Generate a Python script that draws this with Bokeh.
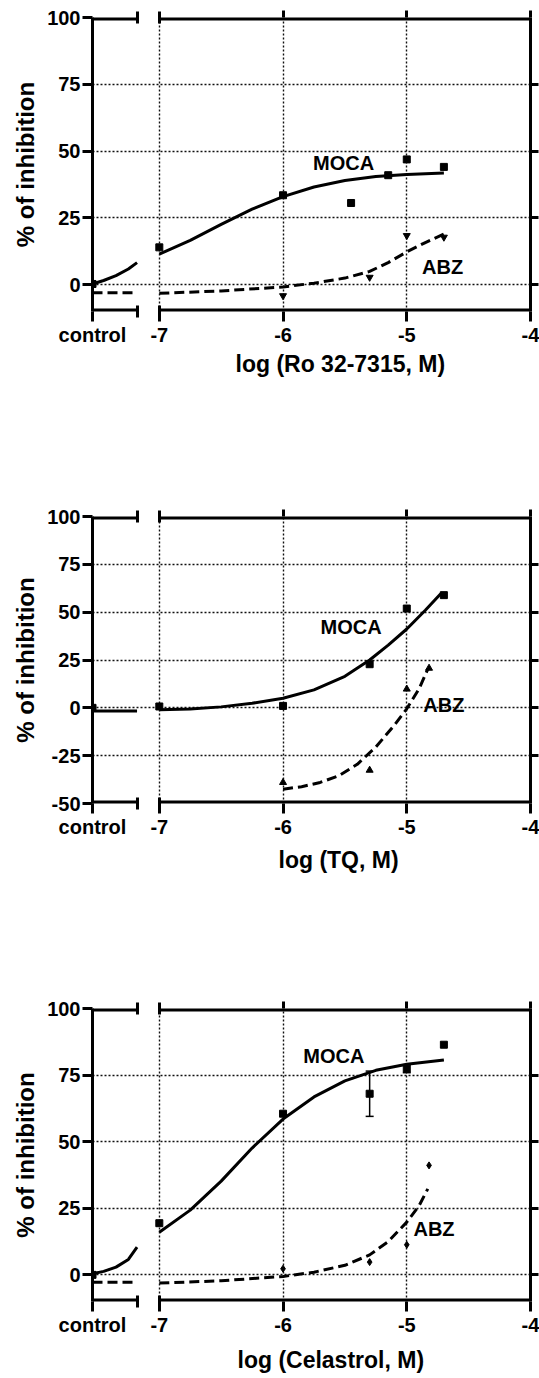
from bokeh.plotting import figure
from bokeh.models import (Range1d, LinearAxis, FixedTicker, Grid, Label, Title,
                          Whisker, ColumnDataSource, TeeHead)
from bokeh.layouts import column
from bokeh.embed import file_html
from bokeh.resources import INLINE

FONT = "Liberation Sans"

# ---------------- axis categories ----------------
X_CTRL = -7.54          # position of the "control" category on the broken axis
X_BREAK = -7.18         # end of the control segment
X_MAX = -4.0
X_TICKS = [X_CTRL, -7, -6, -5, -4]
X_TICK_LABELS = ["control", "-7", "-6", "-5", "-4"]
X_GRID = [-7, -6, -5]

# ---------------- panel 1 : Ro 32-7315 ----------------
P1_TITLE = "log (Ro 32-7315, M)"
P1_Y_TICKS = [0, 25, 50, 75, 100]
P1_MOCA_X = [-7, -6, -5.45, -5.15, -5, -4.7]
P1_MOCA_Y = [14.0, 33.5, 30.6, 41.0, 46.9, 44.1]
P1_MOCA_CTRL = 0.3
P1_ABZ_X = [-6, -5.3, -5, -4.7]
P1_ABZ_Y = [-4.1, 2.8, 18.4, 17.8]
P1_MOCA_FIT_X = [-7, -6.75, -6.5, -6.25, -6, -5.75, -5.5, -5.25, -5, -4.7]
P1_MOCA_FIT_Y = [11.5, 16.6, 22.6, 28.3, 33.0, 36.6, 39.0, 40.5, 41.3, 41.8]
P1_MOCA_CFIT_X = [-7.54, -7.45, -7.35, -7.25, -7.18]
P1_MOCA_CFIT_Y = [0.3, 1.6, 3.4, 5.9, 8.3]
P1_ABZ_FIT_X = [-7, -6.5, -6, -5.75, -5.5, -5.3, -5.15, -5.0, -4.85, -4.7]
P1_ABZ_FIT_Y = [-3.2, -2.3, -0.8, 0.6, 2.5, 5.0, 8.3, 12.3, 15.8, 19.0]
P1_ABZ_CFIT_X = [-7.54, -7.18]
P1_ABZ_CFIT_Y = [-3.0, -3.0]

# ---------------- panel 2 : TQ ----------------
P2_TITLE = "log (TQ, M)"
P2_Y_TICKS = [-50, -25, 0, 25, 50, 75, 100]
P2_MOCA_X = [-7, -6, -5.3, -5, -4.7]
P2_MOCA_Y = [0.7, 1.0, 22.8, 51.9, 58.9]
P2_MOCA_CTRL = 0.0
P2_ABZ_X = [-6, -5.3, -5, -4.82]
P2_ABZ_Y = [-39.0, -32.6, 9.8, 20.7]
P2_MOCA_FIT_X = [-7, -6.75, -6.5, -6.25, -6, -5.75, -5.5, -5.3, -5.15, -5, -4.85, -4.72]
P2_MOCA_FIT_Y = [-1.0, -0.6, 0.5, 2.4, 5.0, 9.4, 16.5, 25.0, 32.8, 41.2, 51.0, 60.0]
P2_MOCA_CFIT_X = [-7.54, -7.18]
P2_MOCA_CFIT_Y = [-1.6, -1.6]
P2_ABZ_FIT_X = [-6, -5.85, -5.7, -5.55, -5.4, -5.25, -5.1, -5.0, -4.9, -4.83]
P2_ABZ_FIT_Y = [-42.5, -41.2, -39.0, -35.5, -29.5, -20.5, -9.0, -0.5, 10.0, 20.2]

# ---------------- panel 3 : Celastrol ----------------
P3_TITLE = "log (Celastrol, M)"
P3_Y_TICKS = [0, 25, 50, 75, 100]
P3_MOCA_X = [-7, -6, -5.3, -5, -4.7]
P3_MOCA_Y = [19.4, 60.5, 68.0, 77.4, 86.4]
P3_MOCA_ERR = [0, 0, 8.5, 1.5, 0]
P3_MOCA_CTRL = 0.0
P3_ABZ_X = [-6, -5.3, -5, -4.82]
P3_ABZ_Y = [2.3, 4.8, 11.3, 41.1]
P3_MOCA_FIT_X = [-7, -6.75, -6.5, -6.25, -6, -5.75, -5.5, -5.25, -5, -4.7]
P3_MOCA_FIT_Y = [16.0, 24.3, 35.2, 47.6, 58.5, 66.8, 72.8, 76.8, 79.1, 80.7]
P3_MOCA_CFIT_X = [-7.54, -7.45, -7.35, -7.25, -7.18]
P3_MOCA_CFIT_Y = [0.4, 1.3, 2.9, 5.8, 10.4]
P3_ABZ_FIT_X = [-7, -6.5, -6, -5.75, -5.5, -5.3, -5.15, -5.0, -4.9, -4.83]
P3_ABZ_FIT_Y = [-3.1, -2.2, -0.6, 1.0, 3.6, 7.5, 12.5, 19.8, 26.0, 32.3]
P3_ABZ_CFIT_X = [-7.54, -7.18]
P3_ABZ_CFIT_Y = [-2.8, -2.8]

B_LEFT = 92


def hidden_labels(ax):
    ax.major_label_text_font_size = "0px"
    ax.major_label_text_color = None
    ax.major_label_standoff = 0


def make_panel(cfg):
    y_lo, y_hi = cfg["y_range"]
    p = figure(width=539, height=cfg["height"],
               x_range=Range1d(X_CTRL, X_MAX), y_range=Range1d(y_lo, y_hi),
               x_axis_type=None, y_axis_type=None,
               toolbar_location=None, output_backend="svg",
               min_border_left=B_LEFT, min_border_right=9,
               min_border_top=cfg["b_top"], min_border_bottom=cfg["b_bottom"])
    p.outline_line_color = None
    p.background_fill_color = "white"
    p.border_fill_color = "white"

    yt = cfg["y_ticks"]
    inner = [t for t in yt if y_lo < t < y_hi]
    # grids
    p.add_layout(Grid(dimension=0, ticker=FixedTicker(ticks=X_GRID),
                      grid_line_color="#111111", grid_line_dash="2 2", grid_line_width=1.4))
    p.add_layout(Grid(dimension=1, ticker=FixedTicker(ticks=inner),
                      grid_line_color="#111111", grid_line_dash="2 2", grid_line_width=1.4))

    # left axis
    ya = LinearAxis(ticker=FixedTicker(ticks=yt), axis_label="% of inhibition")
    ya.axis_line_width = 3
    ya.major_tick_line_width = 3
    ya.major_tick_out = 10
    ya.major_tick_in = 0
    ya.minor_tick_out = 0
    ya.minor_tick_in = 0
    ya.major_label_standoff = 2
    ya.major_label_text_font = FONT
    ya.major_label_text_font_size = "20px"
    ya.major_label_text_font_style = "bold"
    ya.major_label_text_color = "black"
    ya.major_label_overrides = {t: str(t) for t in yt}
    ya.axis_label_standoff = 5
    ya.axis_label_text_font = FONT
    ya.axis_label_text_font_size = "24px"
    ya.axis_label_text_font_style = "bold"
    ya.axis_label_text_color = "black"
    p.add_layout(ya, "left")

    # right axis (ticks only)
    ra = LinearAxis(ticker=FixedTicker(ticks=inner))
    ra.axis_line_width = 3
    ra.major_tick_line_width = 3
    ra.major_tick_out = 8
    ra.major_tick_in = 0
    ra.minor_tick_out = 0
    ra.minor_tick_in = 0
    hidden_labels(ra)
    p.add_layout(ra, "right")

    # bottom axis (broken line drawn separately)
    xa = LinearAxis(ticker=FixedTicker(ticks=X_TICKS, minor_ticks=[X_BREAK, -7]))
    xa.major_label_overrides = dict(zip(X_TICKS, X_TICK_LABELS))
    xa.axis_line_color = None
    xa.major_tick_line_width = 3
    xa.major_tick_out = 10
    xa.major_tick_in = 0
    xa.minor_tick_line_width = 3
    xa.minor_tick_out = 6
    xa.minor_tick_in = 6
    xa.major_label_standoff = 2
    xa.major_label_text_font = FONT
    xa.major_label_text_font_size = "20px"
    xa.major_label_text_font_style = "bold"
    xa.major_label_text_color = "black"
    p.add_layout(xa, "below")

    # top axis (ticks only)
    ta = LinearAxis(ticker=FixedTicker(ticks=[-6, -5, -4], minor_ticks=[X_BREAK, -7]))
    ta.axis_line_color = None
    ta.major_tick_line_width = 3
    ta.major_tick_out = 7
    ta.major_tick_in = 0
    ta.minor_tick_line_width = 3
    ta.minor_tick_out = 6
    ta.minor_tick_in = 6
    hidden_labels(ta)
    p.add_layout(ta, "above")

    # broken top / bottom axis lines
    p.segment(x0=[X_CTRL, -7, X_CTRL, -7], x1=[X_BREAK, X_MAX, X_BREAK, X_MAX],
              y0=[y_lo, y_lo, y_hi, y_hi], y1=[y_lo, y_lo, y_hi, y_hi],
              line_color="black", line_width=6)

    # x title
    t = Title(text=cfg["title"], align="left", offset=cfg["title_offset"],
              text_font=FONT, text_font_size="23px", text_font_style="bold",
              text_color="black", standoff=cfg["title_standoff"])
    p.add_layout(t, "below")

    # fitted curves
    p.line(cfg["moca_cfit"][0], cfg["moca_cfit"][1], line_color="black",
           line_width=3, line_join="round")
    p.line(cfg["moca_fit"][0], cfg["moca_fit"][1], line_color="black",
           line_width=3, line_join="round")
    if cfg.get("abz_cfit"):
        p.line(cfg["abz_cfit"][0], cfg["abz_cfit"][1], line_color="black",
               line_width=3, line_dash="10 5")
    p.line(cfg["abz_fit"][0], cfg["abz_fit"][1], line_color="black",
           line_width=3, line_dash="10 5", line_join="round")

    # error bars
    if cfg.get("moca_err"):
        xs, ys, es = cfg["moca"][0], cfg["moca"][1], cfg["moca_err"]
        src = ColumnDataSource(dict(
            x=[x for x, e in zip(xs, es) if e > 0],
            upper=[y + e for y, e in zip(ys, es) if e > 0],
            lower=[y - e for y, e in zip(ys, es) if e > 0]))
        w = Whisker(base="x", upper="upper", lower="lower", source=src,
                    line_color="black", line_width=1.5,
                    upper_head=TeeHead(size=8, line_width=1.5, line_color="black"),
                    lower_head=TeeHead(size=8, line_width=1.5, line_color="black"))
        p.add_layout(w)

    # data points
    p.scatter([X_CTRL] + list(cfg["moca"][0]), [cfg["moca_ctrl"]] + list(cfg["moca"][1]),
              marker="square", size=7, color="black")
    p.scatter(cfg["abz"][0], cfg["abz"][1], marker=cfg["abz_marker"],
              size=cfg["abz_size"], color="black")

    # series labels
    for txt, (lx, ly) in cfg["labels"].items():
        p.add_layout(Label(x=lx, y=ly, text=txt, text_align="center",
                           text_baseline="middle", text_font=FONT,
                           text_font_size="20px", text_font_style="bold",
                           text_color="black"))
    return p


p1 = make_panel(dict(
    height=420, b_top=17, b_bottom=109, y_range=(-10, 100),
    y_ticks=P1_Y_TICKS, title=P1_TITLE, title_offset=143, title_standoff=0,
    moca=(P1_MOCA_X, P1_MOCA_Y), moca_ctrl=P1_MOCA_CTRL,
    abz=(P1_ABZ_X, P1_ABZ_Y), abz_marker="inverted_triangle", abz_size=7,
    moca_fit=(P1_MOCA_FIT_X, P1_MOCA_FIT_Y), moca_cfit=(P1_MOCA_CFIT_X, P1_MOCA_CFIT_Y),
    abz_fit=(P1_ABZ_FIT_X, P1_ABZ_FIT_Y), abz_cfit=(P1_ABZ_CFIT_X, P1_ABZ_CFIT_Y),
    labels={"MOCA": (-5.51, 45.5), "ABZ": (-4.71, 6.5)}))

p2 = make_panel(dict(
    height=490, b_top=96, b_bottom=107, y_range=(-50, 100),
    y_ticks=P2_Y_TICKS, title=P2_TITLE, title_offset=186, title_standoff=9,
    moca=(P2_MOCA_X, P2_MOCA_Y), moca_ctrl=P2_MOCA_CTRL,
    abz=(P2_ABZ_X, P2_ABZ_Y), abz_marker="triangle", abz_size=7,
    moca_fit=(P2_MOCA_FIT_X, P2_MOCA_FIT_Y), moca_cfit=(P2_MOCA_CFIT_X, P2_MOCA_CFIT_Y),
    abz_fit=(P2_ABZ_FIT_X, P2_ABZ_FIT_Y), abz_cfit=None,
    labels={"MOCA": (-5.45, 42.0), "ABZ": (-4.70, 1.6)}))

p3 = make_panel(dict(
    height=468, b_top=98, b_bottom=77, y_range=(-10, 100),
    y_ticks=P3_Y_TICKS, title=P3_TITLE, title_offset=145, title_standoff=12,
    moca=(P3_MOCA_X, P3_MOCA_Y), moca_ctrl=P3_MOCA_CTRL, moca_err=P3_MOCA_ERR,
    abz=(P3_ABZ_X, P3_ABZ_Y), abz_marker="diamond", abz_size=7,
    moca_fit=(P3_MOCA_FIT_X, P3_MOCA_FIT_Y), moca_cfit=(P3_MOCA_CFIT_X, P3_MOCA_CFIT_Y),
    abz_fit=(P3_ABZ_FIT_X, P3_ABZ_FIT_Y), abz_cfit=(P3_ABZ_CFIT_X, P3_ABZ_CFIT_Y),
    labels={"MOCA": (-5.59, 82.2), "ABZ": (-4.78, 17.3)}))

layout = column(p1, p2, p3, spacing=0)
open("out.html", "w").write(file_html(layout, INLINE))
